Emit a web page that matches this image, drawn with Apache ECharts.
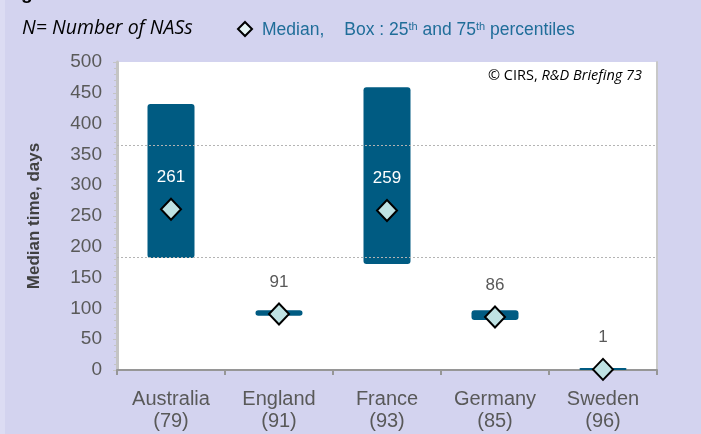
<!DOCTYPE html>
<html>
<head>
<meta charset="utf-8">
<script src="https://cdn.jsdelivr.net/npm/echarts@6/dist/echarts.min.js"></script>
<style>
html, body { margin: 0; padding: 0; background: #d3d3ef; }
#main { width: 701px; height: 434px; }
</style>
</head>
<body>
<div id="main"></div>
<script>
let countries = ['Australia', 'England', 'France', 'Germany', 'Sweden'];
let nasCounts = [79, 91, 93, 85, 96];
let q1 = [182, 88, 172, 81, 0];
let q3 = [432, 97, 459, 97, 2];
let medians = [261, 91, 259, 86, 1];
let refLines = [365, 183];
let yTicks = [0, 500, 50];

let chartDom = document.getElementById('main');
let myChart = echarts.init(chartDom);

let categories = countries.map((c, i) => c + '\n(' + nasCounts[i] + ')');
let boxHeight = q3.map((v, i) => v - q1[i]);

// labels inside tall boxes are white, others grey
let medianData = medians.map((v, i) => ({
	value: v,
	label: { color: boxHeight[i] > 100 ? '#ffffff' : '#595959' }
}));

let legendBlue = '#1f6d99';

let option = {
	backgroundColor: '#d3d3ef',
	animation: false,
	textStyle: { fontFamily: 'Liberation Sans' },
	grid: {
		left: 117, right: 44, top: 62, bottom: 64,
		show: true, backgroundColor: '#ffffff', borderWidth: 0
	},
	graphic: [
		{
			type: 'rect',
			shape: { x: 0, y: 0, width: 5, height: 434 },
			style: { fill: '#dcdcf3' }
		},
		{
			type: 'text', x: 21, y: -16,
			style: { text: 'g', font: 'bold 19px "Liberation Sans"', fill: '#000' }
		},
		{
			type: 'text', x: 22, y: 18,
			style: { text: 'N= Number of NASs', font: 'italic 19.5px "Open Sans"', fill: '#000' }
		},
		{
			type: 'polygon',
			shape: { points: [[245, 22], [252, 29], [245, 36], [238, 29]] },
			style: { fill: '#e6f4f4', stroke: '#000', lineWidth: 2 }
		},
		{
			type: 'text', x: 262, y: 21,
			style: {
				text: '{a|Median,}{g|}{a|Box : 25}{s|th}{a| and 75}{s|th}{a| percentiles}',
				rich: {
					a: { font: '17.5px "Liberation Sans"', fill: legendBlue, verticalAlign: 'bottom' },
					g: { width: 20 },
					s: { font: '11px "Liberation Sans"', fill: legendBlue, padding: [0, 0, 7, 0], verticalAlign: 'bottom' }
				}
			}
		},
		{
			type: 'text', x: 488, y: 68,
			style: {
				text: '{n|© CIRS, }{i|R&D Briefing 73}',
				rich: {
					n: { font: '14.5px "Open Sans"', fill: '#000' },
					i: { font: 'italic 14.5px "Open Sans"', fill: '#000' }
				}
			}
		}
	],
	xAxis: {
		type: 'category',
		data: categories,
		axisLine: { lineStyle: { color: '#969696', width: 2 } },
		axisTick: { show: true, length: 5, lineStyle: { color: '#969696', width: 2 } },
		axisLabel: { color: '#595959', fontSize: 20, lineHeight: 22, margin: 18 }
	},
	yAxis: [
		{
			type: 'value',
			min: yTicks[0], max: yTicks[1], interval: yTicks[2],
			name: 'Median time, days',
			nameLocation: 'middle',
			nameGap: 74,
			nameTextStyle: { color: '#404040', fontSize: 17, fontWeight: 'bold' },
			axisLine: { show: true, lineStyle: { color: '#c4c4c4', width: 3 } },
			axisTick: { show: true, length: 4, lineStyle: { color: '#c4c4c4' } },
			minorTick: { show: true, splitNumber: 5, length: 3, lineStyle: { color: '#c4c4c4' } },
			splitLine: { show: false },
			axisLabel: { color: '#595959', fontSize: 19, margin: 15 }
		},
		{
			type: 'value',
			position: 'right',
			min: yTicks[0], max: yTicks[1], interval: yTicks[2],
			axisLine: { show: true, lineStyle: { color: '#c8c8c8', width: 2 } },
			axisTick: { show: false },
			axisLabel: { show: false },
			splitLine: { show: false }
		}
	],
	series: [
		{
			type: 'line',
			data: [],
			z: 1,
			markLine: {
				silent: true,
				symbol: 'none',
				label: { show: false },
				lineStyle: { color: '#b4b4b4', type: [2, 2], width: 1 },
				data: refLines.map(v => ({ yAxis: v }))
			}
		},
		{
			type: 'bar',
			stack: 'box',
			data: q1,
			barWidth: 47,
			itemStyle: { color: 'transparent' },
			z: 2
		},
		{
			type: 'bar',
			stack: 'box',
			data: boxHeight,
			barWidth: 47,
			barMinHeight: 2,
			itemStyle: { color: '#005b82', borderRadius: 3 },
			z: 2
		},
		{
			type: 'scatter',
			data: medianData,
			symbol: 'diamond',
			symbolSize: [20, 21],
			itemStyle: { color: '#bfe2e3', borderColor: '#000', borderWidth: 2, opacity: 1 },
			label: {
				show: true,
				position: 'top',
				distance: 12,
				fontSize: 17,
				fontFamily: 'Liberation Sans'
			},
			z: 5
		}
	]
};

myChart.setOption(option);
</script>
</body>
</html>
